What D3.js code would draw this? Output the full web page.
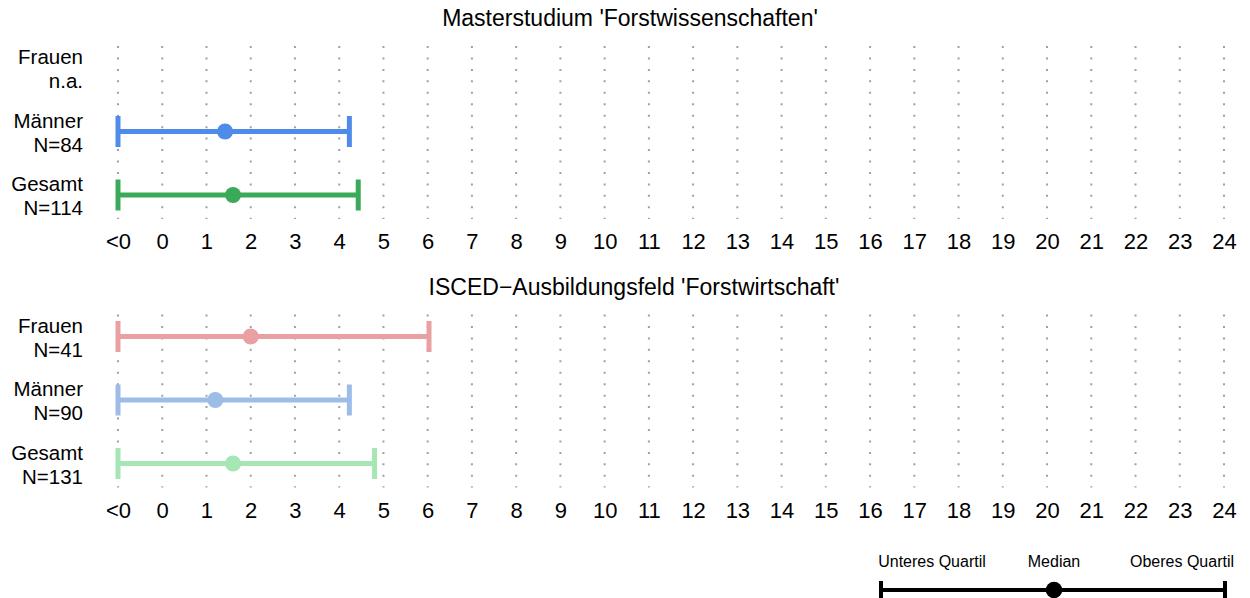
<!DOCTYPE html>
<html><head><meta charset="utf-8">
<script src="https://cdn.jsdelivr.net/npm/d3@7"></script>
<style>body{margin:0;background:#fff}text{font-family:"Liberation Sans",Arial,sans-serif}</style>
</head><body><svg id="c" width="1250" height="598"></svg>
<script>
const tickValues = [-1,0,1,2,3,4,5,6,7,8,9,10,11,12,13,14,15,16,17,18,19,20,21,22,23,24];
const tickLabels = ["<0","0","1","2","3","4","5","6","7","8","9","10","11","12","13","14","15","16","17","18","19","20","21","22","23","24"];
const panelTitles = ["Masterstudium 'Forstwissenschaften'", "ISCED\u2212Ausbildungsfeld 'Forstwirtschaft'"];
const groups = ["Frauen","Männer","Gesamt"];
const nTop = ["n.a.","N=84","N=114"];
const nBottom = ["N=41","N=90","N=131"];
const lowTop = [null,-1,-1];
const medTop = [null,1.42,1.6];
const highTop = [null,4.23,4.43];
const lowBottom = [-1,-1,-1];
const medBottom = [2.0,1.2,1.6];
const highBottom = [6.03,4.23,4.8];
const colorsTop = ["#e8a0a2","#4f8be8","#3aaa5a"];
const colorsBottom = ["#e8a0a2","#9dbde6","#a5e6b4"];
const legendLabels = ["Unteres Quartil","Median","Oberes Quartil"];

const svg = d3.select("#c");
const x = d3.scaleLinear().domain([-1,24]).range([118,1224]);

function panel(cfg, dy){
  const g = svg.append("g").attr("transform",`translate(0,${dy})`);
  g.append("text").attr("x",cfg.titleX).attr("y",26).attr("text-anchor","middle")
    .style("font-size","23px").text(cfg.title);
  g.selectAll("line.grid").data(tickValues).join("line")
    .attr("x1",d=>x(d)).attr("x2",d=>x(d)).attr("y1",46).attr("y2",219)
    .attr("stroke","#a0a0a0").attr("stroke-width",2).attr("stroke-dasharray","2,9.45");
  const y = d3.scalePoint().domain(groups).range([68,195]);
  groups.forEach((grp,i)=>{
    const t = g.append("text").attr("text-anchor","end").style("font-size","20.5px");
    t.append("tspan").attr("x",83).attr("y",y(grp)-4).text(grp);
    t.append("tspan").attr("x",83).attr("y",y(grp)+20).text(cfg.n[i]);
    if(cfg.low[i]===null) return;
    const c = cfg.colors[i], yy=y(grp);
    g.append("line").attr("x1",x(cfg.low[i])).attr("x2",x(cfg.high[i])).attr("y1",yy).attr("y2",yy)
      .attr("stroke",c).attr("stroke-width",5);
    [cfg.low[i],cfg.high[i]].forEach(v=>{
      g.append("line").attr("x1",x(v)).attr("x2",x(v)).attr("y1",yy-15.5).attr("y2",yy+15.5)
        .attr("stroke",c).attr("stroke-width",5);
    });
    g.append("circle").attr("cx",x(cfg.med[i])).attr("cy",yy).attr("r",8).attr("fill",c);
  });
  const ax = g.append("g").attr("transform","translate(0,249)")
    .call(d3.axisBottom(x).tickValues(tickValues).tickFormat((d,i)=>tickLabels[i]).tickSize(0).tickPadding(0));
  ax.select(".domain").remove();
  ax.selectAll("text").attr("dy",null).attr("y",0)
    .style("font-size","22px").style("font-family","'Liberation Sans',Arial,sans-serif").attr("fill","#000");
}

panel({title:panelTitles[0],titleX:630,n:nTop,low:lowTop,med:medTop,high:highTop,colors:colorsTop}, 0);
panel({title:panelTitles[1],titleX:634,n:nBottom,low:lowBottom,med:medBottom,high:highBottom,colors:colorsBottom}, 268.5);

const lg = svg.append("g");
const lx = d3.scaleLinear().domain([0,2]).range([881,1225]);
const labelX = [932,1054,1182];
legendLabels.forEach((l,i)=>{
  lg.append("text").attr("x",labelX[i]).attr("y",567).attr("text-anchor","middle")
    .style("font-size","16px").text(l);
});
lg.append("line").attr("x1",lx(0)).attr("x2",lx(2)).attr("y1",590).attr("y2",590).attr("stroke","#000").attr("stroke-width",4);
[0,2].forEach(v=>lg.append("line").attr("x1",lx(v)).attr("x2",lx(v)).attr("y1",581).attr("y2",600).attr("stroke","#000").attr("stroke-width",4));
lg.append("circle").attr("cx",1054).attr("cy",590).attr("r",8.3).attr("fill","#000");
</script></body></html>
